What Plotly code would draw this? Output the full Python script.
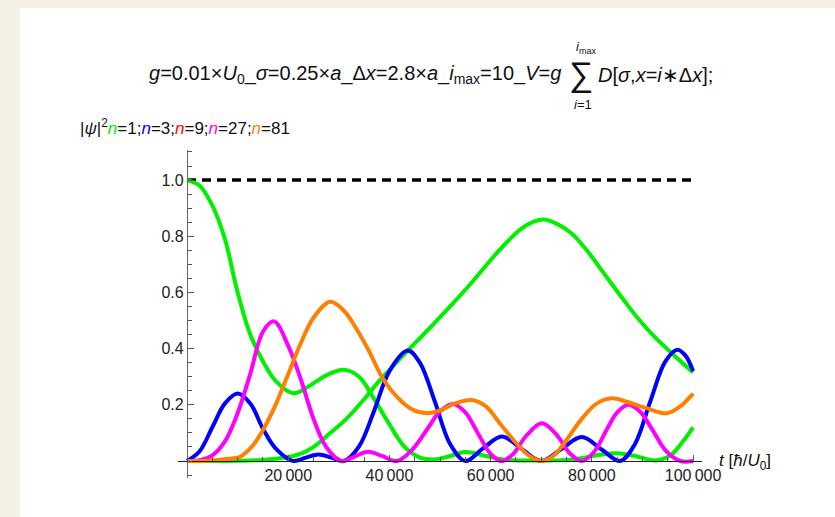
import plotly.graph_objects as go

# time axis values (units of hbar/U0) and populations |psi|^2 for each curve
T_N1A = [0, 2500, 5000, 7500, 10000, 12500, 15000, 17500, 21000, 24000, 27500, 31000, 34000,
         37000, 40000, 43000, 46000, 48500, 51500, 55000, 59000, 63000, 67000, 71000, 75000,
         78500, 81500, 85000, 88500, 92500, 95500, 98000, 100000]
V_N1A = [1.0, 0.98, 0.91, 0.79, 0.6, 0.45, 0.355, 0.285, 0.241, 0.265, 0.305, 0.325, 0.3,
         0.22, 0.13, 0.05, 0.012, 0.005, 0.015, 0.032, 0.018, 0.004, 0.002, 0.002, 0.004,
         0.012, 0.022, 0.028, 0.018, 0.002, 0.02, 0.07, 0.12]

T_N1B = [0, 5000, 10000, 15000, 18000, 20500, 23000, 25000, 28000, 31500, 35000, 38000, 41500,
         44000, 46000, 49000, 52500, 56000, 59500, 63000, 66000, 68500, 70500, 73000, 76000,
         79000, 82500, 86000, 89000, 92500, 96000, 100000]
V_N1B = [0, 0, 0.001, 0.004, 0.009, 0.016, 0.03, 0.05, 0.095, 0.15, 0.22, 0.285, 0.353,
         0.4, 0.437, 0.493, 0.56, 0.63, 0.705, 0.775, 0.826, 0.852, 0.86, 0.845, 0.81,
         0.75, 0.665, 0.58, 0.51, 0.44, 0.38, 0.315]

T_N3 = [0, 2500, 5000, 7500, 10000, 12500, 15000, 17500, 21000, 23500, 26000, 28500, 31000,
        34000, 37000, 40000, 43600, 46000, 49000, 52000, 55000, 58500, 62200, 66000, 70000,
        74000, 78000, 82000, 85600, 88500, 91500, 94500, 96900, 98500, 100000]
V_N3 = [0, 0.035, 0.12, 0.205, 0.24, 0.205, 0.115, 0.045, 0.0, 0.012, 0.023, 0.012, 0.0,
        0.052, 0.18, 0.32, 0.393, 0.35, 0.21, 0.06, 0.0, 0.045, 0.087, 0.045, 0.0,
        0.043, 0.085, 0.04, 0.0, 0.06, 0.21, 0.354, 0.396, 0.375, 0.32]

T_N27 = [0, 2500, 5000, 7500, 10000, 12500, 15000, 17200, 20000, 22500, 25000, 27500, 30500,
         33000, 35800, 38500, 41500, 44500, 47500, 50000, 52600, 55000, 57500, 60000, 62200,
         64500, 67000, 70100, 73000, 75500, 78000, 80500, 83000, 85000, 87200, 89500, 92000,
         94500, 97500, 100000]
V_N27 = [0, 0.003, 0.02, 0.07, 0.17, 0.31, 0.46, 0.497, 0.41, 0.29, 0.15, 0.05, 0.0,
         0.015, 0.033, 0.018, 0.0, 0.04, 0.114, 0.177, 0.203, 0.173, 0.098, 0.025, 0.0,
         0.026, 0.089, 0.134, 0.094, 0.03, 0.0, 0.034, 0.114, 0.173, 0.2, 0.176, 0.11,
         0.039, 0.0, 0.0]

T_N81 = [0, 5000, 8000, 10500, 13000, 15000, 17500, 20000, 22500, 25000, 28300, 31000, 33500,
         36000, 38500, 41500, 44500, 47400, 50000, 53000, 56200, 59000, 62000, 65000, 67500,
         70100, 72500, 75000, 78000, 81000, 84000, 87000, 90500, 94800, 97500, 100000]
V_N81 = [0, 0.002, 0.008, 0.015, 0.055, 0.11, 0.2, 0.31, 0.42, 0.51, 0.567, 0.535, 0.47,
         0.39, 0.3, 0.228, 0.183, 0.17, 0.18, 0.205, 0.217, 0.195, 0.13, 0.065, 0.02,
         0.0, 0.02, 0.075, 0.15, 0.205, 0.223, 0.21, 0.19, 0.17, 0.195, 0.24]

X_TICKS = [20000, 40000, 60000, 80000, 100000]
X_TICK_TEXT = ["20\u2009000", "40\u2009000", "60\u2009000", "80\u2009000", "100\u2009000"]
Y_TICKS = [0.2, 0.4, 0.6, 0.8, 1.0]
Y_TICK_TEXT = ["0.2", "0.4", "0.6", "0.8", "1.0"]

X_RANGE = [-1780, 101760]
Y_RANGE = [-0.0605, 1.107]

GREEN = "rgb(0,240,0)"
BLUE = "rgb(0,0,255)"
RED = "rgb(255,0,0)"
MAGENTA = "rgb(255,0,255)"
ORANGE = "rgb(255,128,0)"

FONT = "Liberation Sans, Arial, sans-serif"
W, H = 835, 517
ML, MR, MT, MB = 178, 133, 150, 39
PW, PH = W - ML - MR, H - MT - MB


def px(x):
    return (x - ML) / PW


def py(y):
    return (H - MB - y) / PH


fig = go.Figure()

# reference level |psi|^2 = 1
fig.add_trace(go.Scatter(x=[0, 100000], y=[1, 1], mode="lines",
                         line=dict(color="black", width=3.5, dash="9px,6px")))

series = [
    (T_N1A, V_N1A, GREEN),
    (T_N1B, V_N1B, GREEN),
    (T_N3, V_N3, BLUE),
    (T_N27, V_N27, MAGENTA),
    (T_N81, V_N81, ORANGE),
]
for t, v, c in series:
    fig.add_trace(go.Scatter(x=t, y=v, mode="lines",
                             line=dict(color=c, width=4, shape="spline", smoothing=1.0)))

x_pos = (0 - Y_RANGE[0]) / (Y_RANGE[1] - Y_RANGE[0])
y_pos = (0 - X_RANGE[0]) / (X_RANGE[1] - X_RANGE[0])

fig.update_layout(
    width=W, height=H,
    margin=dict(l=ML, r=MR, t=MT, b=MB),
    paper_bgcolor="rgb(244,240,227)",
    plot_bgcolor="white",
    showlegend=False,
    font=dict(family=FONT, size=16, color="#222"),
    xaxis=dict(range=X_RANGE, anchor="free", position=x_pos, showgrid=False, zeroline=False,
               showline=True, linecolor="#222", linewidth=1.2,
               tickmode="array", tickvals=X_TICKS, ticktext=X_TICK_TEXT,
               ticks="inside", ticklen=6, tickwidth=1, tickcolor="#555",
               minor=dict(dtick=5000, tick0=0, ticks="inside", ticklen=3.5, tickcolor="#555"),
               tickfont=dict(size=16, color="#222")),
    yaxis=dict(range=Y_RANGE, anchor="free", position=y_pos, showgrid=False, zeroline=False,
               showline=True, linecolor="#666", linewidth=1.2,
               tickmode="array", tickvals=Y_TICKS, ticktext=Y_TICK_TEXT,
               ticks="inside", ticklen=6, tickwidth=1, tickcolor="#555",
               minor=dict(dtick=0.05, tick0=0, ticks="inside", ticklen=3.5, tickcolor="#555"),
               tickfont=dict(size=16, color="#222")),
)

# white card behind the figure
fig.add_shape(type="rect", xref="paper", yref="paper", layer="below",
              x0=px(20), x1=px(W + 5), y0=py(H + 5), y1=py(8),
              fillcolor="white", line=dict(width=0))

annotations = [
    dict(text="<i>g</i>=0.01×<i>U</i><sub>0</sub>_<i>σ</i>=0.25×<i>a</i>_Δ<i>x</i>=2.8×<i>a</i>_"
              "<i>i</i><sub>max</sub>=10_<i>V</i>=<i>g</i>",
         x=px(563), y=py(75), xanchor="right", yanchor="middle", size=20),
    dict(text="∑", x=px(581), y=py(75), xanchor="center", yanchor="middle", size=34),
    dict(text="<i>i</i><sub>max</sub>", x=px(586), y=py(47), xanchor="center", yanchor="middle", size=13),
    dict(text="<i>i</i>=1", x=px(583), y=py(104), xanchor="center", yanchor="middle", size=13),
    dict(text="<i>D</i>[<i>σ</i>,<i>x</i>=<i>i</i>∗Δ<i>x</i>];",
         x=px(596), y=py(75), xanchor="left", yanchor="middle", size=20),
    dict(text="|<i>ψ</i>|<sup>2</sup>"
              f"<i><span style='color:{GREEN}'>n</span></i>=1;"
              f"<i><span style='color:{BLUE}'>n</span></i>=3;"
              f"<i><span style='color:{RED}'>n</span></i>=9;"
              f"<i><span style='color:{MAGENTA}'>n</span></i>=27;"
              f"<i><span style='color:{ORANGE}'>n</span></i>=81",
         x=px(78), y=py(127), xanchor="left", yanchor="middle", size=17),
    dict(text="<i>t</i> [<i>ħ</i>/<i>U</i><sub>0</sub>]", x=px(717), y=py(462),
         xanchor="left", yanchor="middle", size=17),
]
for a in annotations:
    fig.add_annotation(text=a["text"], x=a["x"], y=a["y"], xref="paper", yref="paper",
                       xanchor=a["xanchor"], yanchor=a["yanchor"], showarrow=False,
                       font=dict(family=FONT, size=a["size"], color="#111"))

fig.write_html("out.html")
